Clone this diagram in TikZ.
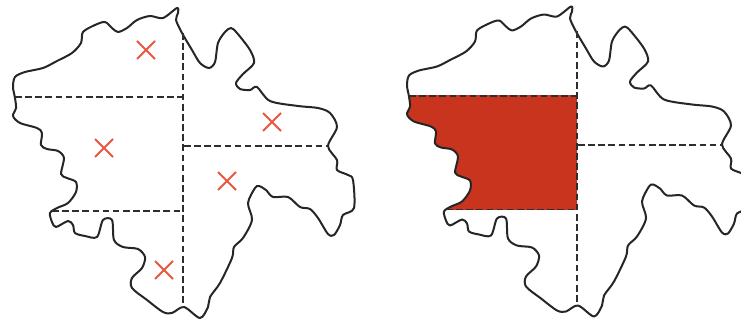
\documentclass[tikz,border=0pt]{standalone}
\definecolor{coastink}{HTML}{262626}
\definecolor{dashink}{HTML}{2E2E2E}
\definecolor{crossred}{HTML}{E9573F}
\definecolor{zonered}{HTML}{C9341F}
\newcommand{\coastpath}{plot[smooth cycle,tension=0.5] coordinates {
(177,8)(163,18)(150,16)(137,20)(127,28)(118,32)(112,28)(105,22)(95,25)(83,32)(81,43)(72,53)(57,61)(43,68)(25,72)(15,77)(13,87)(15,98)(16,108)(13,116)(20,123)(37,128)(42,133)(41,145)(47,149)(58,151)(64,158)(61,174)(67,178)(76,182)(76,192)(68,203)(57,208)(50,213)(52,222)(56,227)(68,221)(73,225)(75,233)(85,236)(97,237)(103,220)(112,220)(114,240)(123,247)(138,249)(145,257)(142,268)(132,278)(132,288)(147,300)(163,312)(172,313)(184,307)(200,318)(208,307)(210,297)(220,283)(232,258)(234,247)(243,238)(252,220)(248,203)(255,188)(259,186)(266,190)(273,197)(288,197)(300,207)(310,209)(318,218)(328,234)(334,235)(340,225)(343,215)(354,208)(353,180)(348,175)(337,170)(337,160)(328,146)(337,127)(330,113)(318,108)(298,106)(270,101)(257,87)(250,90)(240,89)(236,83)(243,74)(254,63)(250,50)(237,33)(231,28)(225,32)(218,43)(215,62)(209,68)(200,63)(192,50)(182,33)(176,20)(178,13)}}
\tikzset{
  coast/.style={draw=coastink,line width=1.5pt,line join=round},
  divide/.style={draw=dashink,line width=1.4pt,dash pattern=on 5pt off 2.6pt},
  crossmark/.style={draw=crossred,line width=1.5pt},
  zone/.style={fill=zonered}
}
\newcommand{\crossat}[2]{\draw[crossmark] (#1-9,#2-9) -- (#1+9,#2+9) (#1-9,#2+9) -- (#1+9,#2-9);}
\begin{document}
\begin{tikzpicture}[x=0.75pt,y=-0.75pt]
\useasboundingbox (0,0) rectangle (741,320);
\clip (0,0) rectangle (741,320);
\fill[white] (0,0) rectangle (741,320);
% left map
\draw[coast] \coastpath;
\draw[divide] (183,33) -- (183,307);
\draw[divide] (15,97) -- (183,97);
\draw[divide] (52,211) -- (183,211);
\draw[divide] (184,146) -- (328,146);
\crossat{146}{50}
\crossat{104}{148}
\crossat{272}{122}
\crossat{227}{181}
\crossat{164}{270}
% right map
\begin{scope}[shift={(394,-1.5)}]
\begin{scope}
\clip (0,97.5) rectangle (183,211);
\fill[zone] \coastpath;
\end{scope}
\draw[coast] \coastpath;
\draw[divide] (183,33) -- (183,307);
\draw[divide] (15,97.5) -- (183,97.5);
\draw[divide] (52,211) -- (183,211);
\draw[divide] (184,146.5) -- (328,146.5);
\end{scope}
\end{tikzpicture}
\end{document}
